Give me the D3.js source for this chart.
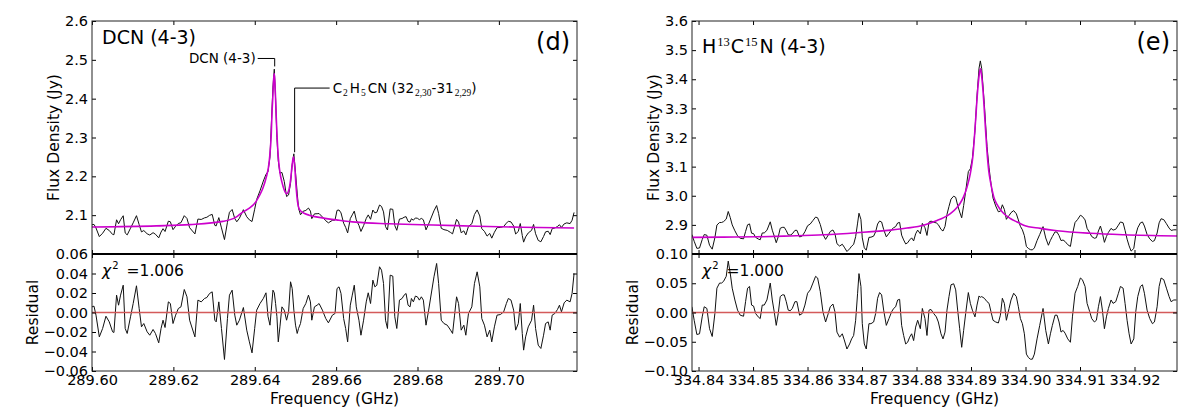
<!DOCTYPE html>
<html><head><meta charset="utf-8">
<script src="https://cdn.jsdelivr.net/npm/d3@7"></script>
<style>
body{margin:0;background:#fff}
svg{display:block}
text{font-family:"DejaVu Sans",sans-serif;fill:#000}
</style>
</head><body>
<svg id="c" width="1200" height="419"></svg>
<script>
// ---------------- DATA: panel (d) DCN (4-3) ----------------
const freqL = [
289.60000,289.60049,289.60098,289.60180,289.60261,289.60343,289.60424,289.60506,289.60539,289.60604,
289.60653,289.60702,289.60767,289.60816,289.60865,289.60947,289.61012,289.61093,289.61159,289.61216,
289.61273,289.61355,289.61420,289.61501,289.61559,289.61640,289.61697,289.61746,289.61795,289.61877,
289.61926,289.61991,289.62056,289.62122,289.62187,289.62268,289.62334,289.62399,289.62530,289.62603,
289.62685,289.62766,289.62823,289.62889,289.62954,289.63019,289.63052,289.63117,289.63182,289.63256,
289.63329,289.63378,289.63444,289.63509,289.63558,289.63623,289.63721,289.63803,289.63868,289.63933,
289.63998,289.64047,289.64129,289.64211,289.64276,289.64325,289.64374,289.64406,289.64447,289.64480,
289.64512,289.64545,289.64578,289.64619,289.64668,289.64725,289.64782,289.64831,289.64880,289.64920,
289.64961,289.65002,289.65043,289.65076,289.65124,289.65190,289.65255,289.65320,289.65369,289.65402,
289.65467,289.65532,289.65581,289.65663,289.65745,289.65810,289.65908,289.65973,289.66022,289.66071,
289.66120,289.66185,289.66234,289.66283,289.66348,289.66397,289.66446,289.66495,289.66561,289.66610,
289.66675,289.66740,289.66789,289.66846,289.66903,289.66952,289.67001,289.67067,289.67116,289.67165,
289.67214,289.67262,289.67328,289.67393,289.67442,289.67491,289.67556,289.67621,289.67670,289.67719,
289.67768,289.67817,289.67850,289.67899,289.67948,289.67997,289.68046,289.68095,289.68144,289.68209,
289.68274,289.68405,289.68470,289.68519,289.68584,289.68650,289.68731,289.68813,289.68862,289.68911,
289.68960,289.69009,289.69074,289.69139,289.69188,289.69253,289.69335,289.69400,289.69466,289.69531,
289.69580,289.69645,289.69710,289.69776,289.69825,289.69890,289.69955,289.70037,289.70118,289.70184,
289.70233,289.70298,289.70363,289.70412,289.70477,289.70526,289.70575,289.70608,289.70657,289.70722,
289.70804,289.70853,289.70902,289.70967,289.71032,289.71098,289.71147,289.71212,289.71261,289.71310,
289.71375,289.71440,289.71489,289.71538,289.71604,289.71669,289.71750,289.71799,289.71848];
const fluxL = [
2.0754,2.0762,2.0670,2.0448,2.0535,2.0662,2.0605,2.0504,2.0497,2.0881,
2.0779,2.0882,2.0985,2.0542,2.0492,2.0665,2.0803,2.0987,2.0756,2.0569,
2.0604,2.0521,2.0488,2.0549,2.0509,2.0416,2.0565,2.0652,2.0579,2.0845,
2.0830,2.0627,2.0716,2.0786,2.0806,2.0987,2.0915,2.0677,2.0517,2.0900,
2.0889,2.0931,2.0946,2.0995,2.1020,2.0737,2.0724,2.0937,2.0672,2.0371,
2.0816,2.1073,2.1146,2.0912,2.0830,2.0921,2.1141,2.0959,2.0879,2.0836,
2.1152,2.1404,2.1628,2.1878,2.2050,2.2120,2.2500,2.3300,2.4300,2.4760,
2.4000,2.3000,2.2400,2.2080,2.2100,2.1870,2.1480,2.1520,2.1820,2.2300,
2.2580,2.2100,2.1570,2.1180,2.1010,2.1101,2.1122,2.1183,2.1104,2.0911,
2.1034,2.1037,2.1042,2.0954,2.0856,2.0802,2.0867,2.0874,2.1123,2.1133,
2.1059,2.0794,2.0686,2.0543,2.0911,2.1008,2.1104,2.0878,2.0737,2.0581,
2.0731,2.0916,2.1007,2.0894,2.1132,2.1060,2.1075,2.1261,2.1224,2.1084,
2.0705,2.0618,2.1162,2.1150,2.0731,2.0610,2.0899,2.0914,2.0946,2.0962,
2.0840,2.0822,2.0907,2.0871,2.0928,2.0920,2.0884,2.0917,2.0881,2.0622,
2.0774,2.1113,2.1248,2.1042,2.0663,2.0627,2.0608,2.0554,2.0519,2.0705,
2.0892,2.0821,2.0547,2.0596,2.0492,2.0713,2.0779,2.1017,2.1135,2.0979,
2.0653,2.0583,2.0461,2.0529,2.0408,2.0560,2.0679,2.0683,2.0709,2.0793,
2.0844,2.0825,2.0721,2.0515,2.0581,2.0785,2.0477,2.0305,2.0440,2.0542,
2.0609,2.0762,2.0522,2.0350,2.0315,2.0450,2.0570,2.0586,2.0500,2.0653,
2.0669,2.0709,2.0753,2.0684,2.0775,2.0802,2.0783,2.0868,2.1070];
const residL = [
0.0058,0.0065,-0.0027,-0.0250,-0.0164,-0.0038,-0.0096,-0.0198,-0.0205,0.0178,
0.0075,0.0178,0.0280,-0.0164,-0.0215,-0.0044,0.0092,0.0274,0.0041,-0.0147,
-0.0113,-0.0198,-0.0233,-0.0174,-0.0215,-0.0311,-0.0164,-0.0079,-0.0154,0.0109,
0.0092,-0.0113,-0.0027,0.0041,0.0058,0.0236,0.0161,-0.0079,-0.0250,0.0127,
0.0109,0.0144,0.0154,0.0195,0.0212,-0.0079,-0.0096,0.0109,-0.0164,-0.0482,
-0.0062,0.0178,0.0229,-0.0027,-0.0130,-0.0079,0.0051,-0.0181,-0.0301,-0.0414,
-0.0164,0.0024,0.0092,0.0144,0.0202,-0.0038,-0.0130,0.0024,0.0229,0.0202,
0.0092,-0.0044,-0.0301,-0.0147,0.0058,0.0024,-0.0079,0.0007,0.0315,0.0246,
0.0024,-0.0130,-0.0215,-0.0164,-0.0113,0.0041,0.0092,0.0178,0.0109,-0.0079,
0.0058,0.0075,0.0092,0.0024,-0.0062,-0.0106,-0.0027,-0.0010,0.0246,0.0263,
0.0195,-0.0062,-0.0164,-0.0301,0.0075,0.0178,0.0280,0.0058,-0.0079,-0.0233,
-0.0079,0.0109,0.0202,0.0092,0.0332,0.0263,0.0280,0.0469,0.0434,0.0298,
-0.0079,-0.0164,0.0383,0.0373,-0.0044,-0.0164,0.0127,0.0144,0.0178,0.0195,
0.0075,0.0058,0.0144,0.0109,0.0168,0.0161,0.0127,0.0161,0.0127,-0.0130,
0.0024,0.0366,0.0503,0.0298,-0.0079,-0.0113,-0.0130,-0.0181,-0.0215,-0.0027,
0.0161,0.0092,-0.0181,-0.0130,-0.0233,-0.0010,0.0058,0.0298,0.0417,0.0263,
-0.0062,-0.0130,-0.0250,-0.0181,-0.0301,-0.0147,-0.0027,-0.0021,0.0007,0.0092,
0.0144,0.0127,0.0024,-0.0181,-0.0113,0.0092,-0.0215,-0.0386,-0.0250,-0.0147,
-0.0079,0.0075,-0.0164,-0.0335,-0.0369,-0.0233,-0.0113,-0.0096,-0.0181,-0.0027,
-0.0010,0.0031,0.0075,0.0007,0.0099,0.0127,0.0109,0.0195,0.0400];
const fitFreqL = [289.60000,289.61583,289.62399,289.63215,289.63541,289.63705,289.63868,289.64031,289.64113,289.64194,
289.64276,289.64357,289.64406,289.64423,289.64447,289.64464,289.64480,289.64496,289.64512,289.64529,
289.64545,289.64578,289.64619,289.64668,289.64725,289.64782,289.64831,289.64880,289.64920,289.64953,
289.64986,289.65018,289.65051,289.65092,289.65173,289.65337,289.65663,289.66071,289.66479,289.67295,
289.68111,289.68927,289.69743,289.70559,289.71848];
const fitL = [2.0696,2.0725,2.0756,2.0840,2.0950,2.1080,2.1180,2.1350,2.1500,2.1680,
2.1950,2.2400,2.3100,2.3600,2.4100,2.4500,2.4650,2.4400,2.4000,2.3500,
2.3100,2.2500,2.2100,2.1850,2.1650,2.1550,2.1620,2.1900,2.2300,2.2500,
2.2200,2.1700,2.1350,2.1160,2.1070,2.1000,2.0930,2.0870,2.0820,2.0780,
2.0755,2.0730,2.0710,2.0690,2.0670];

// ---------------- DATA: panel (e) H13C15N (4-3) ----------------
const freqR = [
334.83878,334.83920,334.83969,334.84018,334.84067,334.84104,334.84153,334.84202,334.84251,334.84300,
334.84337,334.84386,334.84422,334.84459,334.84508,334.84545,334.84581,334.84618,334.84667,334.84716,
334.84765,334.84826,334.84863,334.84900,334.84936,334.84973,334.85010,334.85047,334.85095,334.85132,
334.85169,334.85206,334.85255,334.85316,334.85353,334.85389,334.85426,334.85463,334.85499,334.85536,
334.85573,334.85610,334.85646,334.85683,334.85720,334.85769,334.85805,334.85854,334.85903,334.85952,
334.86001,334.86050,334.86099,334.86148,334.86185,334.86234,334.86283,334.86332,334.86381,334.86417,
334.86466,334.86503,334.86540,334.86589,334.86638,334.86674,334.86723,334.86772,334.86809,334.86846,
334.86883,334.86919,334.86944,334.86980,334.87005,334.87042,334.87078,334.87127,334.87164,334.87213,
334.87250,334.87286,334.87323,334.87360,334.87397,334.87446,334.87495,334.87543,334.87580,334.87617,
334.87654,334.87690,334.87727,334.87764,334.87801,334.87837,334.87874,334.87911,334.87947,334.87984,
334.88021,334.88070,334.88107,334.88155,334.88192,334.88229,334.88266,334.88315,334.88364,334.88400,
334.88449,334.88486,334.88523,334.88559,334.88596,334.88633,334.88682,334.88719,334.88755,334.88792,
334.88829,334.88865,334.88902,334.88951,334.88988,334.89025,334.89073,334.89110,334.89147,334.89171,
334.89196,334.89245,334.89294,334.89331,334.89367,334.89404,334.89453,334.89502,334.89539,334.89575,
334.89612,334.89649,334.89698,334.89734,334.89783,334.89832,334.89869,334.89906,334.89943,334.89979,
334.90016,334.90053,334.90089,334.90126,334.90163,334.90212,334.90261,334.90322,334.90371,334.90420,
334.90457,334.90493,334.90542,334.90579,334.90616,334.90652,334.90689,334.90726,334.90775,334.90824,
334.90861,334.90909,334.90958,334.91007,334.91044,334.91093,334.91130,334.91179,334.91215,334.91264,
334.91301,334.91338,334.91375,334.91411,334.91448,334.91485,334.91521,334.91570,334.91607,334.91656,
334.91705,334.91742,334.91791,334.91827,334.91864,334.91901,334.91938,334.91987,334.92023,334.92060,
334.92109,334.92146,334.92182,334.92231,334.92280,334.92329,334.92366,334.92415,334.92452,334.92488,
334.92537,334.92586,334.92635,334.92672,334.92721,334.92770];
const fluxR = [
2.8668,2.8437,2.8194,2.8206,2.8495,2.8668,2.8644,2.8298,2.8166,2.8560,
2.8994,2.9082,2.9082,2.9112,2.9199,2.9460,2.9258,2.8999,2.8797,2.8624,
2.8539,2.8522,2.8772,2.9003,2.9033,2.8715,2.8699,2.8573,2.8516,2.8489,
2.8722,2.8724,2.8813,2.9105,2.8818,2.8618,2.8387,2.8592,2.8883,2.8914,
2.8916,2.8801,2.8658,2.8649,2.8691,2.8811,2.8813,2.8585,2.8617,2.8765,
2.8970,2.9031,2.9150,2.9268,2.9243,2.9014,2.8671,2.8502,2.8653,2.8772,
2.8825,2.8696,2.8353,2.8272,2.8335,2.8235,2.8085,2.8177,2.8268,2.8330,
2.8594,2.9061,2.9400,2.9186,2.8553,2.8212,2.8131,2.8571,2.8577,2.8613,
2.8763,2.9029,2.9132,2.9098,2.8842,2.8589,2.8712,2.8838,2.8903,2.8940,
2.9065,2.9084,2.8647,2.8483,2.8346,2.8385,2.8484,2.8554,2.8450,2.8693,
2.8821,2.8693,2.9051,2.8902,2.8637,2.9094,2.9130,2.9093,2.9067,2.9008,
2.8846,2.8789,2.8947,2.9360,2.9634,2.9885,2.9986,2.9945,2.9670,2.9443,
2.9243,2.9664,3.0151,3.0829,3.0926,3.1280,3.2250,3.3430,3.4380,3.4630,
3.4370,3.3140,3.1690,3.0960,3.0410,2.9920,2.9650,2.9450,2.9470,2.9690,
2.9530,2.9190,2.9320,2.9420,2.9490,2.9380,2.9170,2.8950,2.8830,2.8630,
2.8260,2.8190,2.8150,2.8140,2.8210,2.8460,2.8670,2.8940,2.8550,2.8300,
2.8470,2.8600,2.8760,2.8750,2.8630,2.8460,2.8480,2.8430,2.8320,2.8260,
2.8680,2.9080,2.9190,2.9330,2.9290,2.9170,2.8880,2.8730,2.8600,2.8540,
2.8560,2.8790,2.8960,2.8720,2.8400,2.8600,2.8740,2.8880,2.8820,2.8850,
2.8990,2.9100,2.9070,2.8810,2.8510,2.8280,2.8100,2.8190,2.8650,2.8900,
2.9070,2.9100,2.8960,2.8670,2.8520,2.8430,2.8460,2.8720,2.9070,2.9210,
2.9180,2.9040,2.8890,2.8810,2.8830,2.8830];
const residR = [
0.0098,-0.0133,-0.0376,-0.0364,-0.0075,0.0098,0.0069,-0.0277,-0.0410,-0.0017,
0.0416,0.0503,0.0503,0.0532,0.0618,0.0879,0.0676,0.0416,0.0214,0.0040,
-0.0046,-0.0064,0.0185,0.0416,0.0445,0.0127,0.0110,-0.0017,-0.0075,-0.0104,
0.0127,0.0127,0.0214,0.0503,0.0214,0.0012,-0.0220,-0.0017,0.0272,0.0301,
0.0301,0.0185,0.0040,0.0029,0.0069,0.0185,0.0185,-0.0046,-0.0017,0.0127,
0.0329,0.0387,0.0503,0.0618,0.0590,0.0358,0.0012,-0.0162,-0.0017,0.0098,
0.0145,0.0012,-0.0335,-0.0422,-0.0364,-0.0468,-0.0624,-0.0538,-0.0451,-0.0393,
-0.0133,0.0329,0.0665,0.0445,-0.0191,-0.0538,-0.0624,-0.0191,-0.0191,-0.0162,
-0.0017,0.0243,0.0341,0.0301,0.0040,-0.0220,-0.0104,0.0012,0.0069,0.0098,
0.0214,0.0225,-0.0220,-0.0393,-0.0538,-0.0509,-0.0422,-0.0364,-0.0480,-0.0249,
-0.0133,-0.0277,0.0069,-0.0104,-0.0393,0.0040,0.0052,-0.0017,-0.0075,-0.0162,
-0.0364,-0.0451,-0.0335,0.0040,0.0272,0.0474,0.0491,0.0387,0.0040,-0.0277,
-0.0595,-0.0306,-0.0017,0.0341,0.0156,0.0040,-0.0075,0.0127,0.0283,0.0260,
0.0272,0.0243,0.0185,0.0156,0.0012,-0.0133,-0.0162,-0.0179,-0.0046,0.0243,
0.0156,-0.0133,0.0069,0.0214,0.0329,0.0272,0.0098,-0.0104,-0.0191,-0.0364,
-0.0711,-0.0769,-0.0798,-0.0798,-0.0711,-0.0451,-0.0220,0.0069,-0.0306,-0.0538,
-0.0364,-0.0220,-0.0046,-0.0046,-0.0162,-0.0335,-0.0306,-0.0353,-0.0451,-0.0509,
-0.0075,0.0329,0.0445,0.0590,0.0561,0.0445,0.0156,0.0012,-0.0104,-0.0162,
-0.0133,0.0098,0.0272,0.0040,-0.0277,-0.0075,0.0069,0.0214,0.0156,0.0185,
0.0329,0.0445,0.0416,0.0156,-0.0133,-0.0364,-0.0538,-0.0451,0.0012,0.0272,
0.0445,0.0474,0.0329,0.0040,-0.0104,-0.0191,-0.0162,0.0098,0.0445,0.0590,
0.0561,0.0416,0.0272,0.0185,0.0214,0.0214];
const fitFreqR = [334.83878,334.84459,334.85071,334.85683,334.86295,334.86907,334.87519,334.87825,334.88131,334.88376,
334.88498,334.88621,334.88743,334.88804,334.88865,334.88927,334.88988,334.89037,334.89080,334.89122,
334.89147,334.89171,334.89196,334.89220,334.89263,334.89294,334.89324,334.89355,334.89416,334.89477,
334.89539,334.89600,334.89722,334.89845,334.89967,334.90273,334.90579,334.91191,334.91803,334.92782];
const fitR = [2.857,2.858,2.859,2.862,2.866,2.873,2.882,2.889,2.899,2.915,
2.925,2.939,2.960,2.975,2.997,3.030,3.077,3.140,3.248,3.362,
3.410,3.437,3.410,3.362,3.237,3.150,3.088,3.050,2.997,2.970,
2.952,2.939,2.922,2.910,2.899,2.888,2.880,2.871,2.866,2.862];

// ---------------- ticks ----------------
const xTicksL = [289.60, 289.62, 289.64, 289.66, 289.68, 289.70];
const yTopTicksL = [2.1, 2.2, 2.3, 2.4, 2.5, 2.6];
const yResTicksL = [-0.06, -0.04, -0.02, 0.00, 0.02, 0.04, 0.06];
const xTicksR = [334.84, 334.85, 334.86, 334.87, 334.88, 334.89, 334.90, 334.91, 334.92];
const yTopTicksR = [2.9, 3.0, 3.1, 3.2, 3.3, 3.4, 3.5, 3.6];
const yResTicksR = [-0.10, -0.05, 0.00, 0.05, 0.10];
const chiL = "1.006", chiR = "1.000";

// ---------------- drawing ----------------
const svg = d3.select("#c");
const defs = svg.append("defs");
const Y_TOP = 21, Y_MID = 254, Y_BOT = 371;
const TICK_FS = 14.5, TITLE_FS = 15.5;

const panels = [
  {id:"L", x0:92, x1:577, xDomain:[289.600, 289.7192], yTopDomain:[2.0, 2.6], yResDomain:[-0.06, 0.06],
   freq:freqL, flux:fluxL, resid:residL, fitFreq:fitFreqL, fit:fitL,
   xTicks:xTicksL, yTopTicks:yTopTicksL, yResTicks:yResTicksL, chi:chiL, tag:"(d)"},
  {id:"R", x0:692, x1:1177, xDomain:[334.8388, 334.9278], yTopDomain:[2.8, 3.6], yResDomain:[-0.10, 0.10],
   freq:freqR, flux:fluxR, resid:residR, fitFreq:fitFreqR, fit:fitR,
   xTicks:xTicksR, yTopTicks:yTopTicksR, yResTicks:yResTicksR, chi:chiR, tag:"(e)"}
];

function styleAxis(g){
  g.select(".domain").remove();
  g.selectAll(".tick line").attr("stroke","#000").attr("stroke-width",1);
  g.selectAll(".tick text").attr("font-size",TICK_FS).attr("font-family","DejaVu Sans").attr("fill","#000");
  g.attr("font-size",TICK_FS).attr("font-family","DejaVu Sans");
}

panels.forEach(p => {
  const x = d3.scaleLinear().domain(p.xDomain).range([p.x0, p.x1]);
  const yT = d3.scaleLinear().domain(p.yTopDomain).range([Y_MID, Y_TOP]);
  const yR = d3.scaleLinear().domain(p.yResDomain).range([Y_BOT, Y_MID]);
  p.x = x; p.yT = yT; p.yR = yR;
  const g = svg.append("g");

  defs.append("clipPath").attr("id","ct"+p.id).append("rect")
    .attr("x",p.x0).attr("y",Y_TOP).attr("width",p.x1-p.x0).attr("height",Y_MID-Y_TOP);
  defs.append("clipPath").attr("id","cr"+p.id).append("rect")
    .attr("x",p.x0).attr("y",Y_MID).attr("width",p.x1-p.x0).attr("height",Y_BOT-Y_MID);

  // top panel: observed spectrum + fit
  const obs = d3.zip(p.freq, p.flux);
  const fit = d3.zip(p.fitFreq, p.fit);
  const res = d3.zip(p.freq, p.resid);
  const gt = g.append("g").attr("clip-path","url(#ct"+p.id+")");
  gt.append("path").datum(obs)
    .attr("d", d3.line().x(d=>x(d[0])).y(d=>yT(d[1])))
    .attr("fill","none").attr("stroke","#111").attr("stroke-width",1).attr("stroke-linejoin","round");
  gt.append("path").datum(fit)
    .attr("d", d3.line().curve(d3.curveMonotoneX).x(d=>x(d[0])).y(d=>yT(d[1])))
    .attr("fill","none").attr("stroke","#cc00cc").attr("stroke-width",1.6);

  // residual panel
  const gr = g.append("g").attr("clip-path","url(#cr"+p.id+")");
  gr.append("path").datum(res)
    .attr("d", d3.line().x(d=>x(d[0])).y(d=>yR(d[1])))
    .attr("fill","none").attr("stroke","#111").attr("stroke-width",1).attr("stroke-linejoin","round");
  gr.append("line").attr("x1",p.x0).attr("x2",p.x1).attr("y1",yR(0)).attr("y2",yR(0))
    .attr("stroke","#d45a5a").attr("stroke-width",1.6);

  // axes (inward ticks on all sides)
  g.append("g").attr("transform",`translate(${p.x0},0)`)
    .call(d3.axisLeft(yT).tickValues(p.yTopTicks).tickSize(-4).tickPadding(4).tickFormat(d3.format(".1f"))).call(styleAxis);
  g.append("g").attr("transform",`translate(${p.x1},0)`)
    .call(d3.axisRight(yT).tickValues(p.yTopTicks).tickSize(-4).tickFormat("")).call(styleAxis);
  g.append("g").attr("transform",`translate(0,${Y_TOP})`)
    .call(d3.axisTop(x).tickValues(p.xTicks).tickSize(-4).tickFormat("")).call(styleAxis);
  g.append("g").attr("transform",`translate(0,${Y_MID})`)
    .call(d3.axisBottom(x).tickValues(p.xTicks).tickSize(-4).tickFormat("")).call(styleAxis);
  g.append("g").attr("transform",`translate(0,${Y_MID})`)
    .call(d3.axisTop(x).tickValues(p.xTicks).tickSize(-4).tickFormat("")).call(styleAxis);
  g.append("g").attr("transform",`translate(0,${Y_BOT})`)
    .call(d3.axisBottom(x).tickValues(p.xTicks).tickSize(-4).tickPadding(4).tickFormat(d3.format(".2f"))).call(styleAxis);
  g.append("g").attr("transform",`translate(${p.x0},0)`)
    .call(d3.axisLeft(yR).tickValues(p.yResTicks).tickSize(-4).tickPadding(4).tickFormat(d3.format(".2f"))).call(styleAxis);
  g.append("g").attr("transform",`translate(${p.x1},0)`)
    .call(d3.axisRight(yR).tickValues(p.yResTicks).tickSize(-4).tickFormat("")).call(styleAxis);

  // frames
  g.append("rect").attr("x",p.x0).attr("y",Y_TOP).attr("width",p.x1-p.x0).attr("height",Y_BOT-Y_TOP)
    .attr("fill","none").attr("stroke","#222").attr("stroke-width",1);
  g.append("line").attr("x1",p.x0).attr("x2",p.x1).attr("y1",Y_MID).attr("y2",Y_MID)
    .attr("stroke","#000").attr("stroke-width",2);

  // axis titles
  g.append("text").attr("transform",`translate(${p.x0-33.5},${(Y_TOP+Y_MID)/2}) rotate(-90)`)
    .attr("text-anchor","middle").attr("font-size",TITLE_FS).text("Flux Density (Jy)");
  g.append("text").attr("transform",`translate(${p.x0-53.7},${(Y_MID+Y_BOT)/2}) rotate(-90)`)
    .attr("text-anchor","middle").attr("font-size",TITLE_FS).text("Residual");
  g.append("text").attr("x",(p.x0+p.x1)/2).attr("y",404)
    .attr("text-anchor","middle").attr("font-size",TITLE_FS).text("Frequency (GHz)");

  // panel tag
  g.append("text").attr("x",p.x1-7).attr("y",50).attr("text-anchor","end").attr("font-size",24).text(p.tag);

  // chi^2
  const chi = g.append("text").attr("x",p.x0+10).attr("y",276)
    .attr("font-family","'Liberation Serif','DejaVu Serif',serif").attr("font-size",15.5);
  chi.append("tspan").attr("font-style","italic").text("χ");
  chi.append("tspan").attr("font-size",10).attr("dy",-7).attr("dx",1).text("2");
  chi.append("tspan").attr("dy",7).attr("dx",8).text("=" + p.chi);
});

// titles
const pL = panels[0], pR = panels[1];
svg.append("text").attr("x",pL.x0+10).attr("y",44.3).attr("font-size",19).text("DCN (4-3)");
const tR = svg.append("text").attr("x",pR.x0+10).attr("y",52.7).attr("font-size",19);
tR.append("tspan").text("H");
tR.append("tspan").attr("font-family","'Liberation Serif','DejaVu Serif',serif").attr("font-size",12.5).attr("dy",-7).attr("dx",1).text("13");
tR.append("tspan").attr("dy",7).attr("dx",1).text("C");
tR.append("tspan").attr("font-family","'Liberation Serif','DejaVu Serif',serif").attr("font-size",12.5).attr("dy",-7).attr("dx",1).text("15");
tR.append("tspan").attr("dy",7).attr("dx",2).text("N (4-3)");

// line identifications (panel d)
const lineIds = [
  {freq:289.6449, yLabel:2.5035, yTip:2.483, side:-1, leg:17},
  {freq:289.6498, yLabel:2.4273, yTip:2.262, side:1, leg:35}
];
lineIds.forEach((a,i) => {
  const px = pL.x(a.freq), yl = pL.yT(a.yLabel), yt = pL.yT(a.yTip);
  svg.append("path").attr("d",`M${px + a.side*a.leg},${yl}H${px}V${yt}`)
    .attr("fill","none").attr("stroke","#000").attr("stroke-width",1);
  const t = svg.append("text").attr("y",yl+5).attr("font-size",13.5);
  if (i === 0) {
    t.attr("x",px - a.leg - 2).attr("text-anchor","end").text("DCN (4-3)");
  } else {
    t.attr("x",px + a.leg + 3);
    const sub = (txt) => t.append("tspan").attr("font-family","'Liberation Serif','DejaVu Serif',serif")
      .attr("font-size",9.5).attr("dy",3).attr("dx",1).text(txt);
    t.append("tspan").text("C");
    sub("2");
    t.append("tspan").attr("dy",-3).attr("dx",2).text("H");
    sub("5");
    t.append("tspan").attr("dy",-3).attr("dx",2).text("CN (32");
    sub("2,30");
    t.append("tspan").attr("dy",-3).text("-31");
    sub("2,29");
    t.append("tspan").attr("dy",-3).text(")");
  }
});
</script>
</body></html>
